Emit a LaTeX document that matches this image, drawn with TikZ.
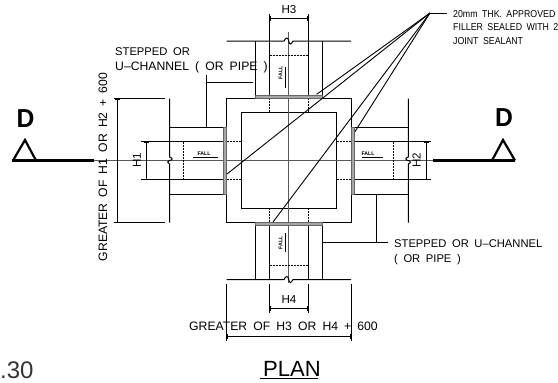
\documentclass[tikz,border=0pt]{standalone}
\usepackage{fontspec}
\setmainfont[WordSpace=1.8]{Liberation Sans}
\usetikzlibrary{arrows.meta}

\tikzset{
  wall/.style={line width=1pt},
  centre/.style={line width=1pt,color=black!65},
  hidden/.style={line width=0.9pt,dash pattern=on 2pt off 1pt},
  dimline/.style={line width=0.9pt,{Bar[width=5pt,length=0.9pt]}-{Bar[width=5pt,length=0.9pt]}},
  filler/.style={draw=black!60,line width=0.4pt,fill=black!35},
  lead/.style={line width=0.9pt},
  lbl/.style={inner sep=0pt,anchor=base west,font=\fontsize{11.6}{12}\selectfont},
  wide/.style={lbl,font=\fontsize{12.2}{12}\selectfont},
  note/.style={inner sep=0pt,anchor=base west,font=\fontsize{10}{11}\selectfont},
  fall/.style={inner sep=0pt,font=\bfseries\fontsize{5.2}{5}\selectfont},
  markD/.style={inner sep=0pt,font=\bfseries\fontsize{26}{26}\selectfont}
}

\begin{document}
\begin{tikzpicture}[x=1pt,y=-1pt]
\useasboundingbox (0,0) rectangle (558,383);
\clip (0,0) rectangle (558,383);

% column
\draw[wall] (226.5,98.5) rectangle (351,222.5);
\draw[wall] (241,112.5) rectangle (336.5,208);

% centre lines
\draw[centre] (288.7,32)--(288.7,283);
\draw[centre] (94,160.5)--(433,160.5);

% section marks
\draw[line width=2.2pt] (12,160.5)--(94,160.5);
\draw[line width=2.2pt] (433,160.5)--(515,160.5);
\draw[line width=2.2pt,line join=miter] (13,160.5)--(25,140)--(36,160.5);
\draw[line width=2.2pt,line join=miter] (492,160.5)--(503,140)--(515,160.5);
\node[markD] (markL) at (25.5,119) {\scalebox{.95}[1]{D}};
\node[markD] (markR) at (504,118) {\scalebox{.95}[1]{D}};

% top channel
\draw[wall] (226.5,41)--(284,41) .. controls (286,37) and (288,37) .. (288.7,41)
  .. controls (289.4,45) and (291,45) .. (293,41)--(351,41);
\draw[wall] (255.5,41)--(255.5,95);
\draw[wall] (322.5,41)--(322.5,95);
\draw[wall] (269.5,14)--(269.5,95);
\draw[wall] (308,14)--(308,95);
\draw[hidden] (269.5,55)--(308,55);
\draw[hidden] (269.5,98)--(269.5,112.5);
\draw[hidden] (308,98)--(308,112.5);
\draw[filler] (255.5,95.5) rectangle (322.5,98.5);

% bottom channel
\draw[wall] (226.5,279.5)--(284,279.5) .. controls (286,275.5) and (288,275.5) .. (288.7,279.5)
  .. controls (289.4,283.5) and (291,283.5) .. (293,279.5)--(351,279.5);
\draw[wall] (255.5,225.5)--(255.5,279.5);
\draw[wall] (322.5,225.5)--(322.5,279.5);
\draw[wall] (269.5,225.5)--(269.5,279.5);
\draw[wall] (308,225.5)--(308,279.5);
\draw[hidden] (269.5,265.7)--(308,265.7);
\draw[hidden] (269.5,208)--(269.5,222.5);
\draw[hidden] (308,208)--(308,222.5);
\draw[filler] (255.5,222.5) rectangle (322.5,225.5);

% left channel
\draw[wall] (169.5,98.5)--(169.5,157) .. controls (173,158) and (173,160) .. (169.5,160.5)
  .. controls (167,161) and (167,163) .. (169.5,164)--(169.5,222.5);
\draw[wall] (169.5,127)--(223.5,127);
\draw[wall] (169.5,194)--(223.5,194);
\draw[wall] (141,141.5)--(223.5,141.5);
\draw[wall] (141,179.5)--(223.5,179.5);
\draw[hidden] (183.5,141.5)--(183.5,179.5);
\draw[hidden] (226.5,141.5)--(241,141.5);
\draw[hidden] (226.5,179.5)--(241,179.5);
\draw[filler] (223.5,127) rectangle (226.5,194);

% right channel
\draw[wall] (408.3,98.5)--(408.3,157) .. controls (405,158) and (405,160) .. (408.3,160.5)
  .. controls (411,161) and (411,163) .. (408.3,164)--(408.3,222.5);
\draw[wall] (354,127)--(408.3,127);
\draw[wall] (354,194)--(408.3,194);
\draw[wall] (354,141.5)--(431,141.5);
\draw[wall] (354,179.5)--(431,179.5);
\draw[hidden] (393.7,141.5)--(393.7,179.5);
\draw[hidden] (336.5,141.5)--(351,141.5);
\draw[hidden] (336.5,179.5)--(351,179.5);
\draw[filler] (351,127) rectangle (354,194);

% dimensions
\draw[dimline] (269.5,18)--(308,18);
\draw[wall] (269.5,284)--(269.5,313);
\draw[wall] (308,284)--(308,313);
\draw[dimline] (269.5,308)--(308,308);
\draw[wall] (226.5,284)--(226.5,341);
\draw[wall] (351,284)--(351,341);
\draw[dimline] (226.5,336.7)--(351,336.7);
\draw[dimline] (146,141.5)--(146,179.5);
\draw[dimline] (426,141.5)--(426,179.5);
\draw[wall] (114,98.5)--(165,98.5);
\draw[wall] (114,222.5)--(165,222.5);
\draw[dimline] (117.5,98.5)--(117.5,222.5);

\node[lbl,anchor=center] (dimHthree) at (289,10) {H3};
\node[lbl,anchor=center] (dimHfour) at (289,300) {H4};
\node[lbl,anchor=center,rotate=90] (dimHone) at (137,160.5) {H1};
\node[lbl,anchor=center,rotate=90] (dimHtwo) at (416.5,160.5) {H2};
\node[wide,anchor=center,rotate=90] (dimLeft) at (103,167) {GREATER OF H1 OR H2 + 600};
\node[wide] (dimBottom) at (189,330) {GREATER OF H3 OR H4 + 600};

% fall
\node[fall] (fallL) at (204,153.5) {FALL};
\node[fall] (fallR) at (368,153.5) {FALL};
\node[fall,rotate=90] (fallT) at (280.5,73) {FALL};
\node[fall,rotate=90] (fallB) at (280.5,243) {FALL};
\draw[lead] (193,157)--(218,157);
\draw[lead] (362,157)--(383,157);
\draw[lead] (285,67)--(285,88);
\draw[lead] (285,233)--(285,252);

% leaders
\node[lbl,font=\fontsize{11.2}{12}\selectfont] (stepA) at (115,55) {STEPPED OR};
\node[wide] (stepB) at (115,70) {U--CHANNEL ( OR PIPE )};
\draw[lead] (206.7,127)--(206.7,75);
\draw[lead] (206.7,82.5)--(253,82.5);
\node[lbl,font=\fontsize{11.2}{12}\selectfont] (stepC) at (394,247) {STEPPED OR U--CHANNEL};
\node[lbl,font=\fontsize{11.2}{12}\selectfont] (stepD) at (394,262) {( OR PIPE )};
\draw[lead] (376,194)--(376,242);
\draw[lead] (323,242.3)--(388,242.3);

\coordinate (apex) at (430,13);
\draw[lead] (apex)--(447,13);
\foreach \x/\y in {316.7/94.3,227/174,273/222,355/131.6}
  \draw[lead] (apex)--(\x,\y);
\node[note] (noteA) at (453,17) {\scalebox{.88}[1]{20mm THK. APPROVED}};
\node[note] (noteB) at (453,30.5) {\scalebox{.88}[1]{FILLER SEALED WITH 2}};
\node[note] (noteC) at (453,44) {\scalebox{.88}[1]{JOINT SEALANT}};

% title
\node[inner sep=0pt,anchor=base west,font=\fontsize{22}{22}\selectfont] (title) at (263,376) {PLAN};
\draw[line width=1pt] (260,378.5)--(318,378.5);
\node[inner sep=0pt,anchor=base west,text=black!80,font=\fontsize{24}{24}\selectfont] (scale) at (0,378) {.30};

\end{tikzpicture}
\end{document}
